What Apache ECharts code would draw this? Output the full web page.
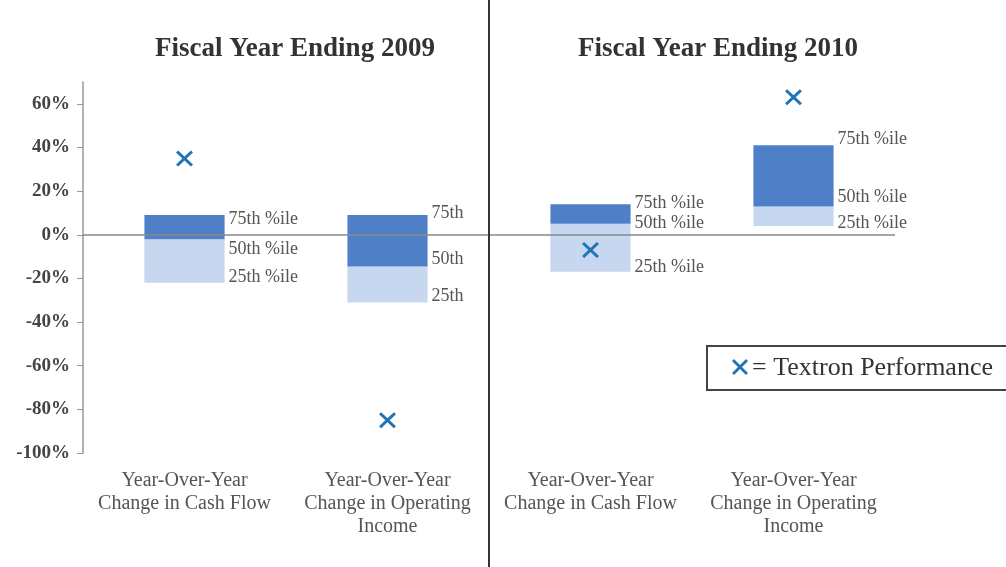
<!DOCTYPE html>
<html>
<head>
<meta charset="utf-8">
<script src="https://cdn.jsdelivr.net/npm/echarts@6/dist/echarts.min.js"></script>
<style>
html,body{margin:0;padding:0;background:#fff;}
#chart{width:1006px;height:567px;}
</style>
</head>
<body>
<div id="chart"></div>
<script>
// ---- data ----
var categories = ['Year-Over-Year\nChange in Cash Flow', 'Year-Over-Year\nChange in Operating\nIncome', 'Year-Over-Year\nChange in Cash Flow', 'Year-Over-Year\nChange in Operating\nIncome'];
var p25 = [-22, -31, -17, 4];
var p50 = [-2, -14.5, 5, 13];
var p75 = [9, 9, 14, 41];
var textron = [35, -85, -7, 63];
var yTicks = [-100, -80, -60, -40, -20, 0, 20, 40, 60];
var panelTitles = ['Fiscal Year Ending 2009', 'Fiscal Year Ending 2010'];
var pctLabelsLong = ['75th %ile', '50th %ile', '25th %ile'];
var pctLabelsShort = ['75th', '50th', '25th'];
var legendText = '= Textron Performance';

// ---- styles ----
var DARK = '#4f80c7', LIGHT = '#c6d7ef', XCOL = '#1d74b9';
var SERIF = '"Liberation Serif","DejaVu Serif",serif';
// label vertical nudges (px) to avoid overlaps, per category [75,50,25]
var labelNudge = [[4, 10, -6], [-2, -7, -6], [-1, -1, -5], [-6, -9, -3]];
var XPATH = 'path://M2,0 L8,6 L14,0 L16,2 L10,8 L16,14 L14,16 L8,10 L2,16 L0,14 L6,8 L0,2 Z';
var XPOLY = [[2,0],[8,6],[14,0],[16,2],[10,8],[16,14],[14,16],[8,10],[2,16],[0,14],[6,8],[0,2]];

var rangeData = [];
for (var i = 0; i < categories.length; i++) {
  rangeData.push([i, p25[i], p50[i], LIGHT]);
  rangeData.push([i, p50[i], p75[i], DARK]);
}
var labelData = [];
for (var j = 0; j < categories.length; j++) {
  var names = (j === 1) ? pctLabelsShort : pctLabelsLong;
  var vals = [p75[j], p50[j], p25[j]];
  for (var k = 0; k < 3; k++) labelData.push([j, vals[k], names[k], labelNudge[j][k]]);
}

var chart = echarts.init(document.getElementById('chart'));
chart.setOption({
  animation: false,
  backgroundColor: '#fff',
  title: [
    {text: panelTitles[0], left: 290, top: 31, textAlign: 'center',
     textStyle: {fontFamily: SERIF, fontSize: 27, fontWeight: 'bold', color: '#333'}},
    {text: panelTitles[1], left: 713, top: 31, textAlign: 'center',
     textStyle: {fontFamily: SERIF, fontSize: 27, fontWeight: 'bold', color: '#333'}}
  ],
  grid: {left: 83, right: 111, top: 82, bottom: 114, containLabel: false},
  xAxis: {
    type: 'category', data: categories, position: 'bottom',
    axisLine: {show: false, onZero: false}, axisTick: {show: false},
    axisLabel: {interval: 0, margin: 16, fontFamily: SERIF, fontSize: 20, lineHeight: 23, color: '#555'}
  },
  yAxis: {
    type: 'value', min: -100, max: 70, interval: 10,
    splitLine: {show: false},
    axisLine: {show: true, lineStyle: {color: '#999', width: 1.5}},
    axisTick: {show: true, inside: false, length: 6, customValues: yTicks, lineStyle: {color: '#999'}},
    axisLabel: {customValues: yTicks, margin: 13, fontFamily: SERIF, fontSize: 19, fontWeight: 'bold', color: '#444',
      formatter: function (v) { return yTicks.indexOf(v) >= 0 ? v + '%' : ''; }}
  },
  series: [
    {
      type: 'scatter', name: 'zero', data: [], z: 1, silent: true,
      markLine: {silent: true, symbol: ['none', 'none'], label: {show: false},
        lineStyle: {color: '#888', width: 1.5, type: 'solid'}, data: [{yAxis: 0}]}
    },
    {
      type: 'custom', name: 'range', data: rangeData,
      encode: {x: 0, y: [1, 2]},
      renderItem: function (params, api) {
        var c = api.value(0);
        var lo = api.coord([c, api.value(1)]);
        var hi = api.coord([c, api.value(2)]);
        var w = api.size([1, 0])[0] * 0.395;
        return {type: 'rect', shape: {x: lo[0] - w / 2, y: hi[1], width: w, height: lo[1] - hi[1]},
          style: {fill: rangeData[params.dataIndex][3]}};
      },
      z: 3
    },
    {
      type: 'custom', name: 'labels', data: labelData,
      encode: {x: 0, y: 1},
      renderItem: function (params, api) {
        var d = labelData[params.dataIndex];
        var p = api.coord([d[0], d[1]]);
        var w = api.size([1, 0])[0] * 0.395;
        return {type: 'text', x: p[0] + w / 2 + 4, y: p[1] + d[3],
          style: {text: d[2], fontFamily: SERIF, fontSize: 18, fill: '#555', align: 'left', verticalAlign: 'middle'}};
      },
      z: 4
    },
    {
      type: 'scatter', name: 'Textron Performance', data: textron.map(function (v, i) { return [i, v]; }),
      symbol: XPATH, symbolSize: [17, 16], itemStyle: {color: XCOL, opacity: 1},
      z: 5
    }
  ],
  graphic: [
    {type: 'line', shape: {x1: 489, y1: 0, x2: 489, y2: 567}, style: {stroke: '#333', lineWidth: 2}, z: 10},
    {type: 'rect', left: 706, top: 345, shape: {x: 0, y: 0, width: 320, height: 44}, style: {fill: '#fff', stroke: '#444', lineWidth: 2}, z: 10},
    {type: 'polygon', x: 732, y: 359, shape: {points: XPOLY}, style: {fill: XCOL}, z: 11},
    {type: 'text', x: 752, y: 368, style: {text: legendText, fontFamily: SERIF, fontSize: 26, fill: '#333', verticalAlign: 'middle'}, z: 11}
  ]
});
</script>
</body>
</html>
